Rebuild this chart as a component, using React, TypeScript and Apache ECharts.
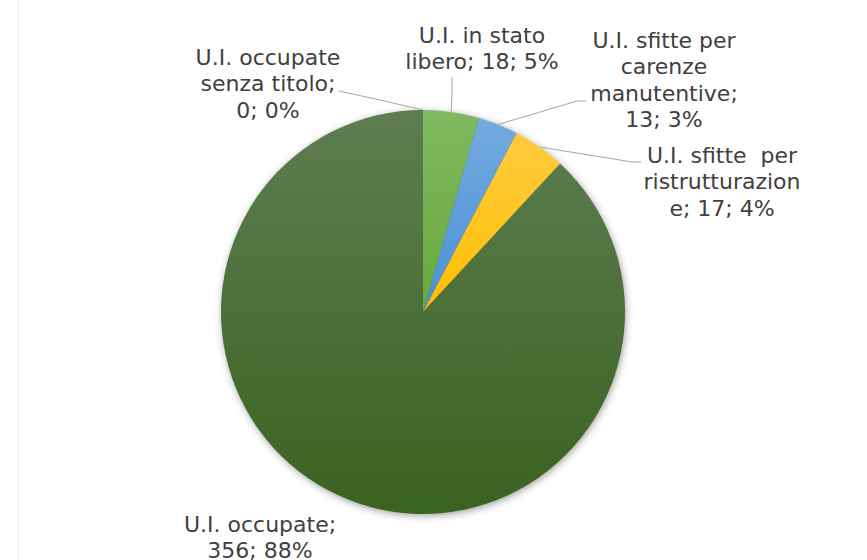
import React, { useEffect, useRef } from "react";
import * as echarts from "echarts";

// ---- data ----
const categories = [
  "U.I. in stato\nlibero",
  "U.I. sfitte per\ncarenze\nmanutentive",
  "U.I. sfitte  per\nristrutturazion\ne",
  "U.I. occupate",
  "U.I. occupate\nsenza titolo",
];
const values = [18, 13, 17, 356, 0];
const percents = [5, 3, 4, 88, 0];
const breakBeforeValue = [false, true, false, true, true];

// ---- style ----
const gradTop = ["#80b960", "#74abe0", "#ffca40", "#5e7d52", "#5e7d52"];
const gradBottom = ["#68a93b", "#4a8fd3", "#ffbf00", "#3a6220", "#3a6220"];

// label placement (center x, top y, leader bend/end points)
const labelPos: { x: number; y: number; line: number[][] | null }[] = [
  { x: 482, y: 22, line: [[452, 95], [452, 77]] },
  { x: 664, y: 27, line: [[577, 101], [586, 101]] },
  { x: 722, y: 142, line: [[632, 162], [641, 162]] },
  { x: 260, y: 511, line: null },
  { x: 268, y: 44, line: [[380, 100], [339, 91]] },
];

export default function App() {
  const ref = useRef<HTMLDivElement>(null);
  useEffect(() => {
    document.body.style.margin = "0";
    if (!ref.current) return;
    const chart = echarts.init(ref.current, null, { renderer: "svg" });
    const data = values.map((v, i) => ({
      name: categories[i],
      value: v,
      itemStyle: {
        color: new echarts.graphic.LinearGradient(0, 0, 0, 1, [
          { offset: 0, color: gradTop[i] },
          { offset: 1, color: gradBottom[i] },
        ]),
      },
      labelLine: { show: labelPos[i].line !== null },
    }));
    chart.setOption({
      animation: false,
      backgroundColor: "#ffffff",
      graphic: [
        {
          type: "line",
          shape: { x1: 18.5, y1: 0, x2: 18.5, y2: 560 },
          style: { stroke: "#ececec", lineWidth: 1 },
          silent: true,
        },
        {
          type: "circle",
          shape: { cx: 423, cy: 312, r: 201 },
          style: {
            fill: "#4a6b35",
            shadowBlur: 8,
            shadowColor: "rgba(0,0,0,0.45)",
            shadowOffsetX: 1,
            shadowOffsetY: 2,
          },
          z: -1,
          silent: true,
        },
      ],
      series: [
        {
          type: "pie",
          center: [423, 312],
          radius: [0, 202],
          startAngle: 90,
          clockwise: true,
          avoidLabelOverlap: false,
          data,
          itemStyle: { borderWidth: 0 },
          label: {
            show: true,
            position: "outside",
            color: "#404040",
            fontFamily: "DejaVu Sans, Verdana, sans-serif",
            fontSize: 22,
            lineHeight: 26.5,
            align: "center",
            formatter: (p: any) => {
              const i = p.dataIndex;
              const sep = breakBeforeValue[i] ? ";\n" : "; ";
              return `${categories[i]}${sep}${values[i]}; ${percents[i]}%`;
            },
          },
          labelLine: {
            show: true,
            length: 10,
            length2: 10,
            lineStyle: { color: "#a6a6a6", width: 1 },
          },
          labelLayout: (p: any) => {
            const L = labelPos[p.dataIndex];
            const res: any = {
              x: L.x,
              y: L.y,
              align: "center",
              verticalAlign: "top",
            };
            if (L.line && p.labelLinePoints) {
              res.labelLinePoints = [p.labelLinePoints[0], L.line[0], L.line[1]];
            }
            return res;
          },
        },
      ],
    });
    return () => chart.dispose();
  }, []);
  return <div ref={ref} style={{ width: 867, height: 560 }} />;
}
